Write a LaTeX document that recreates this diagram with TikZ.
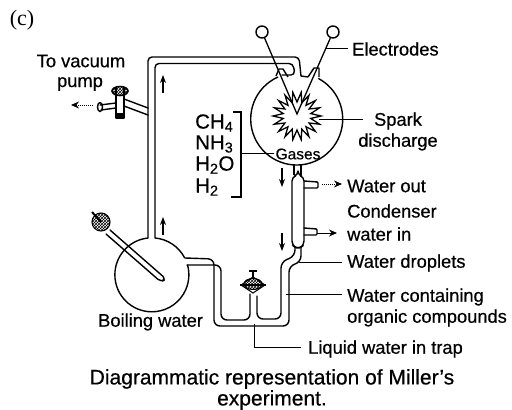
\documentclass[tikz,border=0pt]{standalone}
\usepackage{fontspec}
\setmainfont[FakeBold=0.5]{Liberation Sans}
\newfontfamily\serifc{Liberation Serif}
\usetikzlibrary{arrows.meta,patterns}
\tikzset{
  tube/.style={line width=1.4pt,line join=round,line cap=round,rounded corners=4pt},
  sidearm/.style={line width=1.4pt,line join=round,line cap=round,rounded corners=1pt},
  glass/.style={line width=1.4pt,line join=round},
  leader/.style={line width=1pt},
  flowup/.style={line width=1.2pt,-{Stealth[length=8pt,width=6pt]}},
  flowdot/.style={line width=1pt,densely dotted,-{Stealth[length=8pt,width=7pt]}},
  lab/.style={font=\fontsize{18.3}{20}\selectfont,inner sep=0pt,anchor=west},
  labc/.style={font=\fontsize{18.3}{20}\selectfont,inner sep=0pt,anchor=center},
  gas/.style={font=\fontsize{20.5}{22}\selectfont,inner sep=0pt,anchor=west},
  captext/.style={font=\fontsize{21}{23}\selectfont,inner sep=0pt,anchor=center},
}
\begin{document}
\begin{tikzpicture}[x=1pt,y=-1pt]
\useasboundingbox (0,0) rectangle (512,410);
% labels
\node[inner sep=0pt,font=\serifc\fontsize{22}{24}\selectfont] (c) at (22,20) {(c)};
\node[labc] (tovac) at (81,61) {To vacuum};
\node[labc] (pump) at (80,84) {pump};
\node[lab] (elec) at (352,49) {Electrodes};
\node[labc] (spark) at (398,121) {Spark};
\node[labc] (disch) at (398,142) {discharge};
\node[lab] (wout) at (347,186) {Water out};
\node[lab] (cond) at (347,211) {Condenser};
\node[lab] (win) at (347,234) {water in};
\node[lab] (drop) at (347,263) {Water droplets};
\node[lab] (cont) at (347,297) {Water containing};
\node[lab] (org) at (347,318) {organic compounds};
\node[lab] (trap) at (308,349) {Liquid water in trap};
\node[lab] (boil) at (98,322) {Boiling water};
\node[labc,font=\fontsize{15.5}{17}\selectfont] (gases) at (298,154) {Gases};
\node[gas] (ch4) at (195,123) {CH$_{\mathrm{4}}$};
\node[gas] (nh3) at (195,144) {NH$_{\mathrm{3}}$};
\node[gas] (h2o) at (195,165) {H$_{\mathrm{2}}$O};
\node[gas] (h2) at (195,187) {H$_{\mathrm{2}}$};
\node[captext] (cap1) at (272,379) {Diagrammatic representation of Miller's};
\node[captext] (cap2) at (272,400) {experiment.};
% spark flask
\draw[glass] (278,77) arc[start angle=114,end angle=422,radius=46pt];
\draw[glass] (301,76) -- (308,77);
% boiling flask
\draw[glass] (148,238) arc[start angle=96,end angle=376,radius=37pt];
\draw[glass] (155,238) arc[start angle=85,end angle=27,radius=37pt];
% upper tube
\draw[tube] (148,238) -- (148,57) -- (299,57) -- (301,76);
\draw[tube] (155,238) -- (155,63.5) -- (293,63.5) -- (295,75) -- (282,75);
% side-arm and stopcock
\draw[tube] (148,108) -- (124,99);
\draw[tube] (148,115) -- (124,106);
\draw[glass] (116,88) -- (116,118) -- (124,118) -- (124,88);
\draw[glass,fill=black] (117,114) rectangle (123,118);
\draw[tube] (116,103) -- (100,105);
\draw[tube] (116,108) -- (101,110);
\draw[glass] (100,107) ellipse[x radius=2.5,y radius=4.5];
\draw[line width=1.6pt,pattern=crosshatch] (120,91) ellipse[x radius=8,y radius=4.5];
\draw[line width=1pt] (116,95) -- (124,95);
% electrodes
\node[draw,circle,line width=1.4pt,minimum size=12pt,inner sep=0pt] (e1) at (262,32) {};
\node[draw,circle,line width=1.4pt,minimum size=12pt,inner sep=0pt] (e2) at (333,32) {};
\coordinate (tip) at (297,114);
\draw[line width=1.3pt] (e1) -- (tip) -- (e2);
\draw[glass] (276,76) -- (279,69) -- (283,69) -- (288,77);
\draw[glass] (308,77) -- (314,68) -- (319,68) -- (319,77);
% spark
\draw[line width=1.3pt,line join=miter]
  plot[samples at={0,...,35}] ({297+(14+10*(1-mod(\x,2)))*cos(10*\x)},{116+(14+10*(1-mod(\x,2)))*sin(10*\x)}) -- cycle;
% condenser
\draw[glass] (294,165) -- (294,175);
\draw[glass] (301,165) -- (301,175);
\draw[glass,rounded corners=4pt] (298,175) -- (292,177) -- (292,245) -- (296,248) -- (300,248) -- (304,245) -- (304,177) -- (298,175) -- cycle;
\draw[sidearm] (304,181) -- (318,182) -- (318,188) -- (304,188);
\draw[sidearm] (304,228) -- (317,229) -- (317,235) -- (304,235);
% lower tubes
\draw[tube,rounded corners=6pt] (295,248) -- (295,256) -- (281,262) -- (281,319) -- (257,319) -- (257,296);
\draw[tube,rounded corners=6pt] (301,248) -- (301,262) -- (289,266) -- (289,326) -- (214,326) -- (214,259) -- (185,258);
\draw[tube,rounded corners=6pt] (187,265) -- (221,265) -- (221,320) -- (250,320) -- (250,294);
% trap valve
\draw[line width=1.1pt] (241,285) -- (253,277) -- (265,285) -- (253,293) -- cycle;
\draw[line width=1.5pt] (240,285) -- (266,285);
\draw[line width=1.1pt,pattern=crosshatch] (253,284) ellipse[x radius=9,y radius=5.5];
\draw[line width=1.5pt] (253,277) -- (253,271);
\draw[line width=1.5pt] (249,271) -- (257,271);
% boiling tube / stopper
\draw[tube] (110,230) -- (166,279) -- (161,282) -- (106,234);
\draw[line width=1.1pt,pattern=crosshatch] (101,222) circle[radius=9pt];
\draw[line width=2pt] (101,222) -- (92,212);
% leaders
\coordinate (a1) at (326,48);
\coordinate (a2) at (319,119);
\coordinate (a3) at (299,262);
\coordinate (a4) at (286,294);
\coordinate (a5) at (254,324);
\coordinate (a6) at (241,153);
\coordinate (a6b) at (233,112);
\coordinate (a6c) at (231,197);
\coordinate (d1) at (274,153);
\draw[line width=1.2pt] (a6b) -- (241,112) -- (241,197) -- (a6c);
\draw[leader] (a6) -- (d1);
\draw[leader] (a1) -- (348,48);
\draw[leader] (a2) -- (363,119);
\draw[leader] (a3) -- (342,262);
\draw[leader] (a4) -- (342,294);
\draw[leader] (a5) -- (254,347) -- (301,347);
% flow arrows
\draw[flowup] (163,93) -- (163,75);
\draw[flowup] (163,235) -- (163,217);
\draw[flowup] (282,168) -- (282,187);
\draw[flowup] (282,233) -- (282,251);
\draw[flowdot] (322,184) -- (342,184);
\draw[line width=1pt,-{Stealth[length=8pt,width=7pt]}] (317,233) -- (337,233);
\draw[flowdot] (93,105) -- (71,105);
\end{tikzpicture}
\end{document}
